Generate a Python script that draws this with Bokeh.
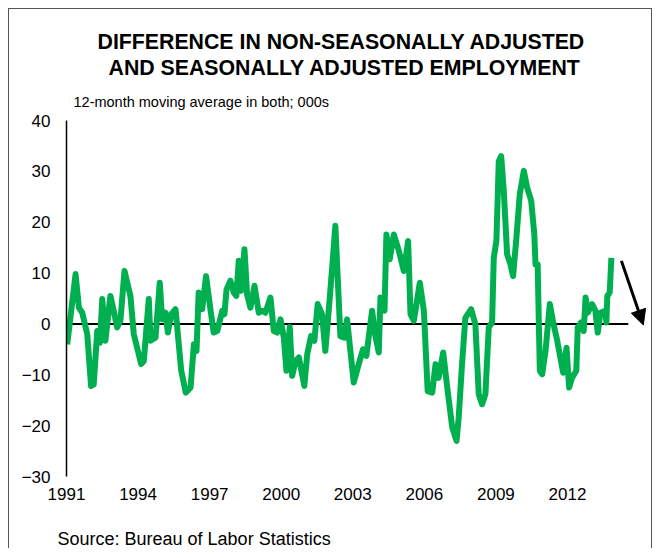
from bokeh.plotting import figure
from bokeh.models import Title, Arrow, NormalHead, FixedTicker, Range1d
from bokeh.embed import file_html
from bokeh.resources import INLINE

# ---------------- data ----------------
title_lines = ["DIFFERENCE IN NON-SEASONALLY ADJUSTED",
               "AND SEASONALLY ADJUSTED EMPLOYMENT"]
subtitle = "12-month moving average in both; 000s"
source_note = "Source: Bureau of Labor Statistics"

x_tick_years = [1991, 1994, 1997, 2000, 2003, 2006, 2009, 2012]
y_tick_values = [-30, -20, -10, 0, 10, 20, 30, 40]

years = [
    1991.03, 1991.38, 1991.52, 1991.66, 1991.87, 1992.03, 1992.14, 1992.29, 1992.40, 1992.50,
    1992.63, 1992.84, 1992.98, 1993.12, 1993.26, 1993.43, 1993.68, 1993.82, 1994.13, 1994.24,
    1994.45, 1994.52, 1994.73, 1994.91, 1995.01, 1995.15, 1995.25, 1995.39, 1995.57, 1995.81,
    1996.00, 1996.20, 1996.34, 1996.45, 1996.54, 1996.69, 1996.85, 1997.04, 1997.17, 1997.32,
    1997.53, 1997.62, 1997.71, 1997.87, 1998.01, 1998.12, 1998.22, 1998.32, 1998.46, 1998.57,
    1998.71, 1998.88, 1999.06, 1999.20, 1999.34, 1999.55, 1999.69, 1999.83, 1999.97, 2000.11,
    2000.22, 2000.36, 2000.46, 2000.60, 2000.74, 2000.97, 2001.09, 2001.25, 2001.39, 2001.53,
    2001.71, 2001.85, 2002.06, 2002.27, 2002.48, 2002.65, 2002.76, 2003.04, 2003.25, 2003.43,
    2003.57, 2003.81, 2003.95, 2004.09, 2004.16, 2004.33, 2004.41, 2004.55, 2004.72, 2004.93,
    2005.14, 2005.32, 2005.42, 2005.56, 2005.81, 2005.98, 2006.14, 2006.33, 2006.47, 2006.60,
    2006.79, 2006.96, 2007.17, 2007.35, 2007.44, 2007.58, 2007.72, 2007.96, 2008.14, 2008.28,
    2008.42, 2008.56, 2008.70, 2008.84, 2008.91, 2009.02, 2009.12, 2009.22, 2009.33, 2009.47,
    2009.61, 2009.72, 2009.86, 2010.00, 2010.17, 2010.31, 2010.48, 2010.61, 2010.66, 2010.75,
    2010.84, 2010.94, 2011.08, 2011.26, 2011.40, 2011.57, 2011.70, 2011.82, 2011.96, 2012.07,
    2012.19, 2012.37, 2012.43, 2012.57, 2012.68, 2012.76, 2012.85, 2013.03, 2013.17, 2013.27,
    2013.38, 2013.59, 2013.63, 2013.67, 2013.77, 2013.84,
]
diff_values = [
    -4.0, 9.8, 3.2, 2.2, -2.0, -12.2, -11.9, -1.4, -3.7, 4.9,
    -3.3, 5.5, 2.6, -0.7, 0.6, 10.4, 5.5, -2.0, -7.9, -7.3,
    4.9, -3.3, -2.7, 8.1, 0.9, 2.2, -1.7, 1.9, 2.9, -9.2,
    -13.5, -12.5, -4.0, -5.3, 6.2, 2.9, 9.4, 2.6, -1.7, -1.4,
    2.6, 1.9, 6.8, 8.5, 6.2, 5.5, 12.4, 6.5, 14.7, 5.8,
    3.2, 7.5, 2.2, 2.6, 2.2, 5.2, -1.4, -1.7, 0.9, -2.7,
    -9.2, -0.6, -10.2, -7.3, -6.6, -12.2, -6.0, -2.4, -3.3, 3.9,
    1.9, -5.3, 6.5, 19.3, -2.4, -2.7, 0.9, -11.5, -7.9, -5.0,
    -6.3, 2.6, -2.4, -5.6, 5.2, 2.6, 17.6, 12.7, 17.6, 14.4,
    10.4, 16.3, 1.9, 0.6, 8.1, 2.6, -13.2, -13.5, -7.9, -10.6,
    -5.6, -12.5, -20.4, -23.0, -18.4, -7.9, 1.2, 2.9, -0.1, -13.8,
    -15.8, -13.8, -0.7, 0.3, 13.0, 16.3, 32.0, 33.0, 26.2, 13.7,
    11.7, 9.4, 17.0, 25.5, 30.1, 26.8, 24.2, 17.6, 11.7, 11.7,
    -9.2, -9.9, -5.3, 3.9, 0.3, -3.3, -6.6, -9.6, -4.7, -12.5,
    -10.6, -9.2, -0.7, 0.3, -1.4, 5.2, 2.2, 3.9, 2.6, -1.7,
    2.2, 2.6, 0.3, 5.5, 6.2, 13.0,
]

# ---------------- layout / style ----------------
FONT = "Liberation Sans"
GREEN = "#00B050"
X_START, X_END = 1991, 2015.48
ZERO_LINE_END = 2014.55

p = figure(width=644, height=540, output_backend="svg", toolbar_location=None,
           x_range=Range1d(X_START, X_END), y_range=Range1d(-30, 40),
           min_border_left=57, min_border_right=3, min_border_top=111,
           min_border_bottom=73)
p.styles = {"border-top": "1px solid #555", "border-left": "1px solid #555",
            "border-right": "1px solid #555", "margin-left": "8px", "margin-top": "8px"}
p.outline_line_color = None
p.xgrid.visible = False
p.ygrid.visible = False
p.background_fill_color = "white"
p.border_fill_color = "white"

# y axis
p.yaxis.ticker = FixedTicker(ticks=y_tick_values)
p.yaxis.axis_line_color = "black"
p.yaxis.axis_line_width = 1.5
p.yaxis.major_tick_line_color = None
p.yaxis.minor_tick_line_color = None
p.yaxis.major_label_standoff = 10
p.yaxis.major_label_text_font = FONT
p.yaxis.major_label_text_font_size = "17px"
p.yaxis.major_label_text_color = "black"

# x axis
p.xaxis.ticker = FixedTicker(ticks=x_tick_years)
p.xaxis.axis_line_color = None
p.xaxis.major_tick_line_color = None
p.xaxis.minor_tick_line_color = None
p.xaxis.major_label_standoff = 5
p.xaxis.major_label_text_font = FONT
p.xaxis.major_label_text_font_size = "17px"
p.xaxis.major_label_text_color = "black"

# zero line
p.segment(x0=[X_START], y0=[0], x1=[ZERO_LINE_END], y1=[0],
          line_color="black", line_width=2)

# series
p.line(years, diff_values, line_color=GREEN, line_width=6, line_join="round")

# arrow
p.add_layout(Arrow(end=NormalHead(size=15, fill_color="black", line_color="black"),
                   x_start=2014.26, y_start=12.4, x_end=2015.18, y_end=-0.2,
                   line_color="black", line_width=3))

# titles (first added to "above" sits closest to the frame)
p.add_layout(Title(text=subtitle, align="left", offset=7, standoff=21, text_font=FONT,
                   text_font_size="14.5px", text_font_style="normal",
                   text_color="black"), "above")
p.add_layout(Title(text=title_lines[1], align="left", offset=42, standoff=3,
                   text_font=FONT, text_font_size="21.3px", text_font_style="bold",
                   text_color="black"), "above")
p.add_layout(Title(text=title_lines[0], align="left", offset=31, standoff=-3,
                   text_font=FONT, text_font_size="21.3px", text_font_style="bold",
                   text_color="black"), "above")
# below: spacer then source note
p.add_layout(Title(text=" ", align="left", standoff=2, text_font=FONT,
                   text_font_size="18px"), "below")
p.add_layout(Title(text=source_note, align="left", offset=-9, standoff=0, text_font=FONT,
                   text_font_size="18px", text_font_style="normal",
                   text_color="black"), "below")

open("out.html", "w").write(file_html(p, INLINE))
